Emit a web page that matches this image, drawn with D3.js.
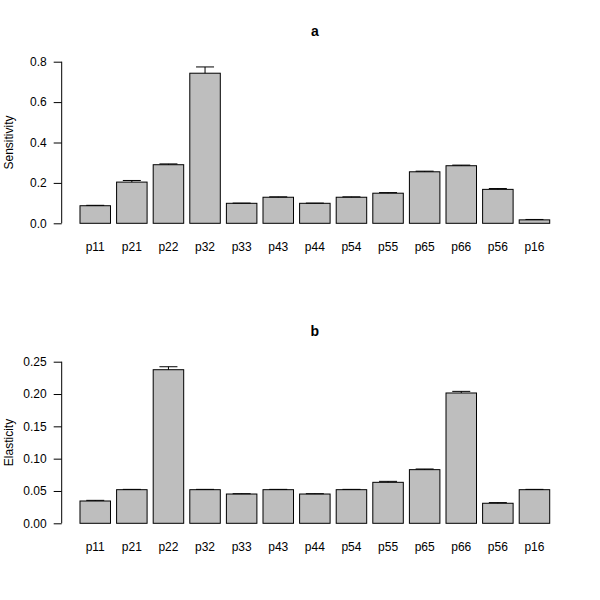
<!DOCTYPE html>
<html>
<head>
<meta charset="utf-8">
<script src="https://cdn.jsdelivr.net/npm/d3@7"></script>
<style>
  body { margin: 0; background: #fff; }
  text { font-family: "Liberation Sans", Arial, Helvetica, sans-serif; }
</style>
</head>
<body>
<div id="chart"></div>
<script>
// stage names, same order in both panels
let stages = ["p11", "p21", "p22", "p32", "p33", "p43", "p44", "p54", "p55", "p65", "p66", "p56", "p16"]

let sensitivity = [0.087, 0.204, 0.290, 0.743, 0.099, 0.129, 0.099, 0.129, 0.149, 0.255, 0.285, 0.168, 0.017]
let sensitivityErr = [0.002, 0.008, 0.004, 0.031, 0.001, 0.002, 0.001, 0.002, 0.003, 0.003, 0.003, 0.004, 0.002]
let sensitivityTicks = [0, 0.2, 0.4, 0.6, 0.8]

let elasticity = [0.0345, 0.052, 0.2376, 0.052, 0.0453, 0.052, 0.0453, 0.052, 0.0634, 0.083, 0.2016, 0.031, 0.052]
let elasticityErr = [0.001, 0.0005, 0.0046, 0.0005, 0.0005, 0.0005, 0.0005, 0.0005, 0.0015, 0.001, 0.0025, 0.001, 0.0005]
let elasticityTicks = [0, 0.05, 0.10, 0.15, 0.20, 0.25]

let svg = d3.select("#chart").append("svg")
    .attr("width", 600)
    .attr("height", 600)

// barplot units: width 1, space 0.2 (like R barplot)
let x = d3.scaleLinear()
    .domain([-0.416, 16.216])
    .range([61.2, 568.5])

let drawPanel = function(offset, title, ylab, values, errs, ticks, fmt) {
    let g = svg.append("g").attr("transform", "translate(0," + offset + ")")

    let y = d3.scaleLinear()
        .domain([0, ticks[ticks.length - 1]])
        .range([223.3, 61.7])

    g.append("text")
        .attr("x", (x.range()[0] + x.range()[1]) / 2)
        .attr("y", 36)
        .attr("text-anchor", "middle")
        .style("font-weight", "bold")
        .style("font-size", "14px")
        .text(title)

    let bars = stages.map((s, i) => ({
        name: s,
        left: 0.2 + 1.2 * i,
        value: values[i],
        err: errs[i]
    }))

    g.selectAll("rect.bar")
        .data(bars)
        .enter()
        .append("rect")
        .attr("class", "bar")
        .attr("x", d => x(d.left))
        .attr("y", d => y(d.value))
        .attr("width", d => x(d.left + 1) - x(d.left))
        .attr("height", d => y(0) - y(d.value))
        .attr("fill", "#bebebe")
        .attr("stroke", "#000")
        .attr("stroke-width", 1)

    // error bars (upper only)
    g.selectAll("line.err")
        .data(bars)
        .enter()
        .append("line")
        .attr("class", "err")
        .attr("x1", d => x(d.left + 0.5))
        .attr("x2", d => x(d.left + 0.5))
        .attr("y1", d => y(d.value))
        .attr("y2", d => y(d.value + d.err))
        .attr("stroke", "#000")

    g.selectAll("line.cap")
        .data(bars)
        .enter()
        .append("line")
        .attr("class", "cap")
        .attr("x1", d => x(d.left + 0.5) - 9)
        .attr("x2", d => x(d.left + 0.5) + 9)
        .attr("y1", d => y(d.value + d.err))
        .attr("y2", d => y(d.value + d.err))
        .attr("stroke", "#000")

    g.selectAll("text.lab")
        .data(bars)
        .enter()
        .append("text")
        .attr("class", "lab")
        .attr("x", d => x(d.left + 0.5))
        .attr("y", 251)
        .attr("text-anchor", "middle")
        .style("font-size", "12px")
        .text(d => d.name)

    let yAxis = g.append("g")
        .attr("transform", "translate(61.7,0)")
        .call(d3.axisLeft(y).tickValues(ticks).tickFormat(fmt).tickSize(8).tickPadding(7))
    yAxis.select(".domain").attr("d", "M0," + y(0) + "V" + y(ticks[ticks.length - 1]))
    yAxis.selectAll("text")
        .style("font-size", "12px")
        .style("font-family", "'Liberation Sans', Arial, sans-serif")
        .attr("fill", "#000")

    g.append("text")
        .attr("transform", "translate(13," + ((y(0) + y(ticks[ticks.length - 1])) / 2) + ") rotate(-90)")
        .attr("text-anchor", "middle")
        .style("font-size", "12px")
        .text(ylab)
}

drawPanel(0, "a", "Sensitivity", sensitivity, sensitivityErr, sensitivityTicks, d3.format(".1f"))
drawPanel(300, "b", "Elasticity", elasticity, elasticityErr, elasticityTicks, d3.format(".2f"))
</script>
</body>
</html>
